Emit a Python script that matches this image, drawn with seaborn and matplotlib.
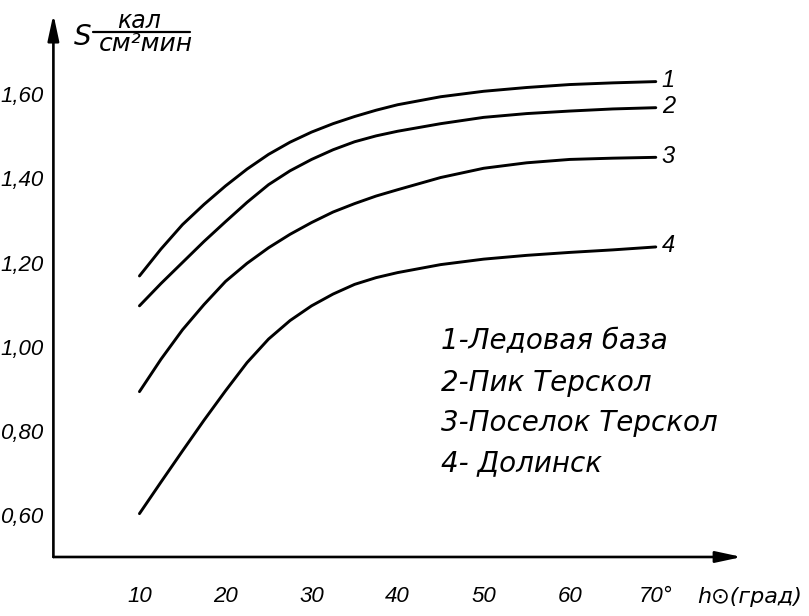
import matplotlib
matplotlib.use("Agg")
import matplotlib.pyplot as plt
import pandas as pd
import seaborn as sns
from matplotlib.lines import Line2D

# Solar elevation angle, degrees
angles = [10, 12.5, 15, 17.5, 20, 22.5, 25, 27.5, 30, 32.5, 35, 37.5, 40, 45, 50, 55, 60, 65, 70]

# Direct solar radiation S, cal/(cm^2 min), per station
ice_base = [1.168, 1.232, 1.290, 1.338, 1.382, 1.422, 1.457, 1.486, 1.510, 1.530, 1.547, 1.562, 1.575,
            1.594, 1.607, 1.616, 1.623, 1.627, 1.630]
peak_terskol = [1.097, 1.150, 1.200, 1.250, 1.297, 1.343, 1.385, 1.418, 1.445, 1.468, 1.487, 1.501, 1.512,
                1.530, 1.545, 1.554, 1.560, 1.565, 1.568]
terskol_village = [0.893, 0.970, 1.040, 1.100, 1.155, 1.198, 1.235, 1.267, 1.295, 1.320, 1.340, 1.358, 1.373,
                   1.402, 1.424, 1.437, 1.445, 1.448, 1.450]
dolinsk = [0.603, 0.678, 0.752, 0.825, 0.895, 0.962, 1.018, 1.062, 1.097, 1.125, 1.148, 1.164, 1.176,
           1.195, 1.208, 1.217, 1.224, 1.230, 1.237]

curve_ids = ["1", "2", "3", "4"]
station_names = ["Ледовая база", "Пик Терскол", "Поселок Терскол", "Долинск"]
key_separators = ["-", "-", "-", "- "]

x_ticks = [10, 20, 30, 40, 50, 60, 70]
x_tick_labels = ["10", "20", "30", "40", "50", "60", "70°"]
y_ticks = [0.60, 0.80, 1.00, 1.20, 1.40, 1.60]
y_tick_labels = ["0,60", "0,80", "1,00", "1,20", "1,40", "1,60"]

series = [ice_base, peak_terskol, terskol_village, dolinsk]
df = pd.concat(
    [pd.DataFrame({"h": angles, "S": vals, "curve": cid}) for cid, vals in zip(curve_ids, series)],
    ignore_index=True,
)

sns.set_theme(style="white")
plt.rcParams["font.family"] = ["DejaVu Sans"]
plt.rcParams["font.style"] = "italic"
numfont = ["Liberation Sans", "DejaVu Sans"]

fig = plt.figure(figsize=(8.09, 6.16), dpi=100)
fig.patch.set_facecolor("white")
ax = fig.add_axes([0.066, 0.0958, 0.851, 0.881])
ax.set_facecolor("white")

sns.lineplot(
    data=df, x="h", y="S", hue="curve", palette=["black"] * 4,
    legend=False, linewidth=2.1, estimator=None, sort=False, ax=ax,
)
for line in ax.lines:
    line.set_solid_capstyle("round")
    line.set_solid_joinstyle("round")

ax.set_xlim(0, 80)
ax.set_ylim(0.5, 1.79)
for s in ax.spines.values():
    s.set_visible(False)

# axes drawn as arrows
arrow_kw = dict(arrowstyle="-|>,head_length=1.3,head_width=0.28", lw=1.9,
                color="black", shrinkA=0, shrinkB=0)
ax.annotate("", xy=(1.0, 0.0), xytext=(0.0, 0.0), xycoords="axes fraction",
            arrowprops=arrow_kw, annotation_clip=False)
ax.annotate("", xy=(0.0, 1.0), xytext=(0.0, 0.0), xycoords="axes fraction",
            arrowprops=arrow_kw, annotation_clip=False)

ax.set_xticks(x_ticks, x_tick_labels)
ax.set_yticks(y_ticks, y_tick_labels)
ax.tick_params(axis="both", direction="in", length=6, width=1.4, color="black",
               labelcolor="black")
ax.tick_params(axis="x", pad=21)
ax.tick_params(axis="y", pad=7)
for lab in ax.get_xticklabels() + ax.get_yticklabels():
    lab.set_family(numfont)
    lab.set_fontsize(16)
ax.set_xlabel("")
ax.set_ylabel("")
ax.grid(False)

# curve numbers at the right ends
for cid, vals in zip(curve_ids, series):
    ax.text(angles[-1] + 0.7, vals[-1] + 0.003, cid, ha="left", va="center", fontsize=17,
            color="black", family=numfont)

# station key
key_y = [341, 383, 423, 463]
for cid, sep, name, py in zip(curve_ids, key_separators, station_names, key_y):
    fig.text(441 / 809, 1 - py / 616, f"{cid}{sep}{name}", ha="left", va="center",
             fontsize=20, color="black")

# y-axis quantity: S with units as a fraction
fig.text(74 / 809, 1 - 37 / 616, "S", ha="left", va="center", fontsize=20, color="black")
fig.text(139 / 809, 1 - 21 / 616, "кал", ha="center", va="center", fontsize=17, color="black")
fig.add_artist(Line2D([93 / 809, 190 / 809], [1 - 32 / 616, 1 - 32 / 616],
                      transform=fig.transFigure, color="black", lw=1.6))
fig.text(146 / 809, 1 - 44 / 616, "см²мин", ha="center", va="center", fontsize=18, color="black")

# x-axis quantity
fig.text(697 / 809, 1 - 597 / 616, "h⊙(град)", ha="left", va="center", fontsize=16, color="black")

fig.savefig("out.png", dpi=100, facecolor="white")
